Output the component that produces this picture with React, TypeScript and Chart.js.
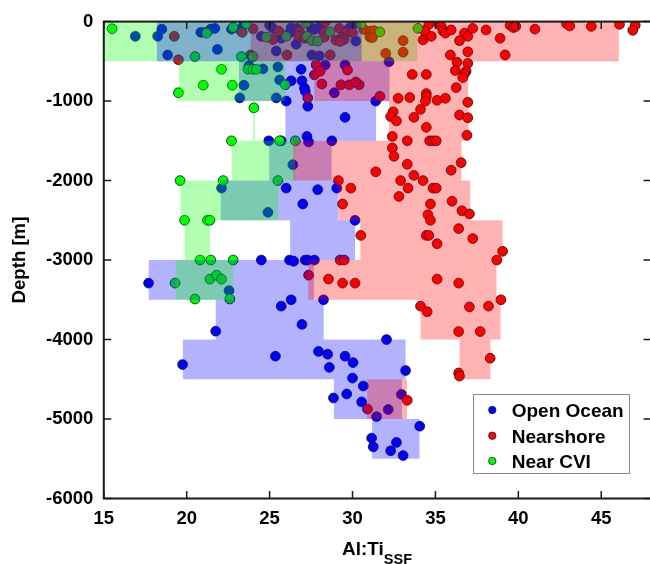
import React, { useEffect, useRef } from "react";
import { Chart, registerables } from "chart.js";

Chart.register(...registerables);

const FONT = '"Liberation Sans", Arial, Helvetica, sans-serif';

// ---------- labels / ticks ----------
const seriesNames = ["Open Ocean", "Nearshore", "Near CVI"];
const xTickValues = [15, 20, 25, 30, 35, 40, 45];
const yTickValues = [0, -1000, -2000, -3000, -4000, -5000, -6000];
const xTitleMain = "Al:Ti";
const xTitleSub = "SSF";
const yTitle = "Depth [m]";

// ---------- Open Ocean points ----------
const oceanX = [
  16.9, 18.25, 18.5, 18.85, 20.85, 21.15, 21.45, 21.7, 21.85, 22.7, 23.45, 23.2, 25.0, 25.2, 26.3, 26.65, 27.5, 27.7,
  24.5, 25.7, 26.2, 30.2, 30.0, 26.6, 25.4, 27.55, 28.0, 29.8, 28.1, 28.1,
  32.2, 23.75, 25.5, 26.9, 28.35, 29.55, 25.6, 26.3, 26.95, 27.1, 27.15, 28.9, 23.45, 23.2, 25.4, 24.6,
  26.0, 31.4, 27.3, 29.55, 27.25,
  24.95, 25.7, 27.35, 28.75, 26.4,
  22.1, 26.0, 27.9, 29.05, 27.0, 24.9,
  30.15,
  24.5, 26.2, 26.45, 27.15, 27.3, 27.7, 17.7, 22.55,
  26.3, 25.7, 28.25, 26.95, 21.75,
  32.05, 19.75, 25.35, 27.95, 28.5, 28.6, 29.55, 30.03, 33.2, 30.0,
  30.65, 28.85, 29.65, 30.55, 32.15, 32.95, 31.45,
  34.05, 31.15, 31.25, 32.65, 32.3, 33.05,
];
const oceanDepth = [
  -185, -185, -95, -420, -135, -135, -95, -85, -350, -95, -35, -100, -45, -85, -80, -85, -75, -100,
  -185, -210, -140, -245, -45, -285, -370, -420, -430, -85, -100, -30,
  -505, -555, -570, -600, -545, -545, -735, -745, -745, -835, -875, -895, -800, -960, -960, -595,
  -1000, -1000, -1065, -1205, -1445,
  -1500, -1500, -1515, -1500, -1800,
  -2095, -2095, -2115, -2095, -2295, -2400,
  -2500,
  -3000, -3000, -3015, -3000, -3000, -3000, -3290, -3385,
  -3500, -3580, -3500, -3810, -3895,
  -4000, -4315, -4210, -4150, -4185, -4350, -4210, -4290, -4390, -4485,
  -4585, -4735, -4685, -4785, -4880, -4690, -4970,
  -5090, -5240, -5350, -5295, -5400, -5460,
];

// ---------- Nearshore points ----------
const nearshoreX = [
  19.25, 19.5, 23.35, 24.0, 25.55, 28.35, 28.3, 29.2, 26.8, 29.6, 30.7, 31.1, 25.2, 26.75, 27.1, 28.3, 29.0, 29.35,
  29.5, 29.25, 30.0, 31.05, 26.05, 28.65, 32.0, 23.85, 23.95, 33.05, 33.05, 31.3, 31.2, 34.6, 35.2, 35.35,
  35.45, 35.6, 35.95, 36.75, 36.95, 37.25, 36.45, 38.05, 38.9, 39.5, 39.7, 39.85, 41.0, 42.9, 43.1, 44.4,
  46.1, 47.05, 46.9, 39.2, 34.25, 34.45, 34.75, 34.35, 35.9, 36.95,
  36.3, 36.95, 36.2, 36.85, 36.75, 36.65, 36.25, 33.6, 34.45, 34.45, 34.45, 34.4, 32.75, 33.45, 35.1, 35.6,
  36.95, 27.8, 27.7, 28.05, 29.7, 28.15, 29.3, 29.8, 30.4, 27.3, 31.65, 30.2,
  32.45, 32.3, 32.65, 33.7, 34.1, 34.45, 36.45, 36.95, 32.4, 33.3, 34.65, 34.85, 35.05, 36.9,
  32.4, 32.5, 33.3, 31.4, 33.7, 35.95, 36.55,
  29.15, 34.25, 29.9, 32.9, 33.35, 34.85, 35.05, 32.8, 29.4, 34.7, 36.0, 36.6, 37.05, 34.55, 34.7,
  30.5, 34.45, 34.6, 35.1, 36.4, 37.25, 39.05, 38.7, 29.25, 29.5,
  27.35, 28.55, 29.4, 30.15, 35.1, 36.4, 38.95,
  34.1, 34.5, 37.05, 38.2, 36.4, 37.7,
  38.3, 36.4, 36.45,
  33.3, 30.9,
];
const nearshoreDepth = [
  -185, -480, -135, -90, -120, -5, -130, -85, -120, -140, -100, -120, -225, -185, -210, -195, -235, -200,
  -225, -250, -140, -195, -420, -420, -400, -420, -445, -385, -240, -115, -200, -35, -25, -60,
  -115, -145, -105, -145, -185, -85, -240, -105, -210, -45, -75, -60, -95, -25, -55, -60,
  -35, -45, -110, -420, -230, -160, -185, -115, -420, -380,
  -510, -525, -615, -625, -655, -705, -830, -665, -665, -905, -945, -1000, -965, -955, -990, -965,
  -1015, -545, -670, -625, -610, -785, -795, -795, -795, -960, -940, -760,
  -1135, -1195, -1250, -1205, -1105, -1330, -1175, -1210, -1445, -1500, -1500, -1500, -1500, -1430,
  -1590, -1695, -1795, -1890, -1935, -1870, -1775,
  -2000, -2000, -2095, -2000, -2095, -2095, -2095, -2200, -2295, -2295, -2260, -2380, -2420, -2430, -2500,
  -2690, -2690, -2690, -2795, -2605, -2730, -2890, -3000, -3000, -3000,
  -3190, -3240, -3290, -3290, -3240, -3290, -3500,
  -3580, -3650, -3590, -3580, -3900, -3900,
  -4235, -4420, -4460,
  -4765, -4875,
];

// ---------- Near CVI points ----------
const cviX = [
  15.5, 21.2, 22.8, 23.6, 20.5, 23.3, 24.0, 24.8, 26.0, 27.2, 27.25, 27.55, 27.9, 28.65, 30.5, 31.65, 33.95,
  22.1, 23.7, 24.0, 24.2, 21.0, 22.75, 19.5, 25.95,
  24.05,
  22.7, 25.6, 26.55,
  19.6, 22.2, 25.5,
  19.87, 21.25, 21.4,
  20.8, 21.45, 22.8, 19.3, 21.4, 21.8, 22.1, 20.5, 22.6,
];
const cviDepth = [
  -90, -145, -75, -25, -440, -440, -440, -195, -185, -15, -185, -240, -245, -130, -30, -130, -85,
  -600, -600, -600, -600, -800, -800, -895, -795,
  -1085,
  -1500, -1500, -1500,
  -2000, -2000, -2000,
  -2500, -2500, -2500,
  -3000, -3000, -3000, -3290, -3240, -3190, -3240, -3490, -3490,
];

// ---------- depth-bin ranges (shaded boxes) ----------
const binEdges = [0, -500, -1000, -1500, -2000, -2500, -3000, -3500, -4000, -4500, -5000, -5500];
const oceanBinMin = [18.2, 23.15, 25.95, 24.97, 22.05, 26.24, 17.71, 21.75, 19.77, 28.88, 31.18];
const oceanBinMax = [30.55, 32.23, 31.42, 28.74, 29.14, 30.15, 27.67, 28.26, 33.2, 32.98, 34.04];
const nearshoreBinMin = [23.86, 27.69, 32.2, 26.42, 29.15, 30.47, 27.33, 34.1, 36.46, 30.88, null];
const nearshoreBinMax = [46.06, 36.97, 37.0, 36.57, 37.1, 39.05, 38.68, 38.93, 38.32, 33.28, null];
const cviBinMin = [15.0, 19.53, 24.06, 22.71, 19.63, 19.87, 19.33, null, null, null, null];
const cviBinMax = [33.9, 25.94, 24.06, 26.54, 25.51, 21.4, 22.82, null, null, null, null];

// ---------- styles ----------
const pointColors = ["#0000ff", "#ff0000", "#00ff00"];
const boxFills = ["rgba(0,0,255,0.3)", "rgba(255,0,0,0.3)", "rgba(0,255,0,0.3)"];
const topBinOrder = [2, 1, 0];
const otherBinOrder = [0, 2, 1];

const toPoints = (xs: number[], ds: number[]) => xs.map((x, i) => ({ x, y: ds[i] }));

const overlayPlugin = {
  id: "overlayPlugin",
  afterDatasetsDraw(chart: any) {
    const { ctx, chartArea: a, scales } = chart;
    const xs = scales.x;
    const ys = scales.y;
    const mins = [oceanBinMin, nearshoreBinMin, cviBinMin];
    const maxs = [oceanBinMax, nearshoreBinMax, cviBinMax];
    ctx.save();
    ctx.beginPath();
    ctx.rect(a.left, a.top, a.right - a.left, a.bottom - a.top);
    ctx.clip();
    for (let b = 0; b < binEdges.length - 1; b++) {
      const order = b === 0 ? topBinOrder : otherBinOrder;
      for (const s of order) {
        const lo = mins[s][b];
        const hi = maxs[s][b];
        if (lo === null || hi === null) continue;
        let x0 = xs.getPixelForValue(lo);
        let x1 = xs.getPixelForValue(hi);
        if (x1 - x0 < 1.5) {
          const c = (x0 + x1) / 2;
          x0 = c - 0.9;
          x1 = c + 0.9;
        }
        const y0 = ys.getPixelForValue(binEdges[b]);
        const y1 = ys.getPixelForValue(binEdges[b + 1]);
        ctx.fillStyle = boxFills[s];
        ctx.fillRect(x0, y0, x1 - x0, y1 - y0);
      }
    }
    ctx.restore();
  },
  afterDraw(chart: any) {
    const { ctx, chartArea: a, scales } = chart;
    const xs = scales.x;
    const ys = scales.y;
    ctx.save();
    // frame
    ctx.strokeStyle = "#1a1a1a";
    ctx.lineWidth = 2;
    ctx.strokeRect(a.left, a.top, a.right - a.left, a.bottom - a.top);
    // inward ticks
    ctx.lineWidth = 1.5;
    const tl = 7.5;
    for (const v of xTickValues) {
      const px = xs.getPixelForValue(v);
      ctx.beginPath();
      ctx.moveTo(px, a.bottom);
      ctx.lineTo(px, a.bottom - tl);
      ctx.moveTo(px, a.top);
      ctx.lineTo(px, a.top + tl);
      ctx.stroke();
    }
    for (const v of yTickValues) {
      const py = ys.getPixelForValue(v);
      ctx.beginPath();
      ctx.moveTo(a.left, py);
      ctx.lineTo(a.left + tl, py);
      ctx.moveTo(a.right, py);
      ctx.lineTo(a.right - tl, py);
      ctx.stroke();
    }
    // x title with subscript
    const mainFont = `bold 19px ${FONT}`;
    const subFont = `bold 14.5px ${FONT}`;
    ctx.fillStyle = "#000";
    ctx.textBaseline = "alphabetic";
    ctx.textAlign = "left";
    ctx.font = mainFont;
    const w1 = ctx.measureText(xTitleMain).width;
    ctx.font = subFont;
    const w2 = ctx.measureText(xTitleSub).width;
    const cx = 377;
    const startX = cx - (w1 + w2) / 2;
    ctx.font = mainFont;
    ctx.fillText(xTitleMain, startX, 555);
    ctx.font = subFont;
    ctx.fillText(xTitleSub, startX + w1, 564);
    // legend
    const lx = 473.5, ly = 394.5, lw = 156, lh = 79;
    ctx.fillStyle = "#ffffff";
    ctx.fillRect(lx, ly, lw, lh);
    ctx.strokeStyle = "#8a8a8a";
    ctx.lineWidth = 1;
    ctx.strokeRect(lx, ly, lw, lh);
    const rowY = [410, 435.7, 461];
    ctx.font = `bold 19px ${FONT}`;
    seriesNames.forEach((name, i) => {
      ctx.beginPath();
      ctx.arc(492.3, rowY[i], 3.7, 0, Math.PI * 2);
      ctx.fillStyle = pointColors[i];
      ctx.fill();
      ctx.strokeStyle = "#222";
      ctx.lineWidth = 0.8;
      ctx.stroke();
      ctx.fillStyle = "#000";
      ctx.fillText(name, 511.7, rowY[i] + 6.8);
    });
    ctx.restore();
  },
};

export default function App() {
  const ref = useRef<HTMLCanvasElement | null>(null);
  useEffect(() => {
    if (!ref.current) return;
    const tickFont = { family: FONT, size: 18.5, weight: "bold" as const };
    const chart = new Chart(ref.current, {
      type: "scatter",
      data: {
        datasets: [
          {
            label: seriesNames[0],
            data: toPoints(oceanX, oceanDepth),
            backgroundColor: pointColors[0],
            borderColor: "#111",
            borderWidth: 0.8,
            pointRadius: 4.9,
            order: 2,
          },
          {
            label: seriesNames[1],
            data: toPoints(nearshoreX, nearshoreDepth),
            backgroundColor: pointColors[1],
            borderColor: "#111",
            borderWidth: 0.8,
            pointRadius: 4.9,
            order: 1,
          },
          {
            label: seriesNames[2],
            data: toPoints(cviX, cviDepth),
            backgroundColor: pointColors[2],
            borderColor: "#111",
            borderWidth: 0.8,
            pointRadius: 4.9,
            order: 0,
          },
        ],
      },
      options: {
        responsive: false,
        animation: false,
        devicePixelRatio: 1,
        layout: { padding: { top: 19.3, right: 9, left: 0, bottom: 0 } },
        plugins: { legend: { display: false }, tooltip: { enabled: false } },
        scales: {
          x: {
            type: "linear",
            min: 15,
            max: 48,
            grid: { display: false, drawTicks: false },
            border: { display: false },
            ticks: {
              font: tickFont,
              color: "#000",
              padding: 9,
              maxRotation: 0,
              callback: (v: any) => String(v),
            },
            afterBuildTicks: (s: any) => {
              s.ticks = xTickValues.map((v) => ({ value: v }));
            },
            afterFit: (s: any) => {
              s.height = 65.5;
            },
          },
          y: {
            type: "linear",
            min: -6000,
            max: 0,
            grid: { display: false, drawTicks: false },
            border: { display: false },
            ticks: {
              font: tickFont,
              color: "#000",
              padding: 10.5,
              callback: (v: any) => String(v),
            },
            afterBuildTicks: (s: any) => {
              s.ticks = yTickValues.map((v) => ({ value: v }));
            },
            afterFit: (s: any) => {
              s.width = 103.8;
            },
            title: {
              display: true,
              text: yTitle,
              color: "#000",
              font: { family: FONT, size: 18.6, weight: "bold" },
              padding: { top: 9, bottom: 0 },
            },
          },
        },
      },
      plugins: [overlayPlugin],
    });
    return () => chart.destroy();
  }, []);
  return (
    <div
      style={{
        position: "fixed",
        left: 0,
        top: 0,
        width: 650,
        height: 564,
        overflow: "hidden",
        background: "#fff",
      }}
    >
      <canvas ref={ref} width={660} height={564} style={{ display: "block" }} />
    </div>
  );
}
